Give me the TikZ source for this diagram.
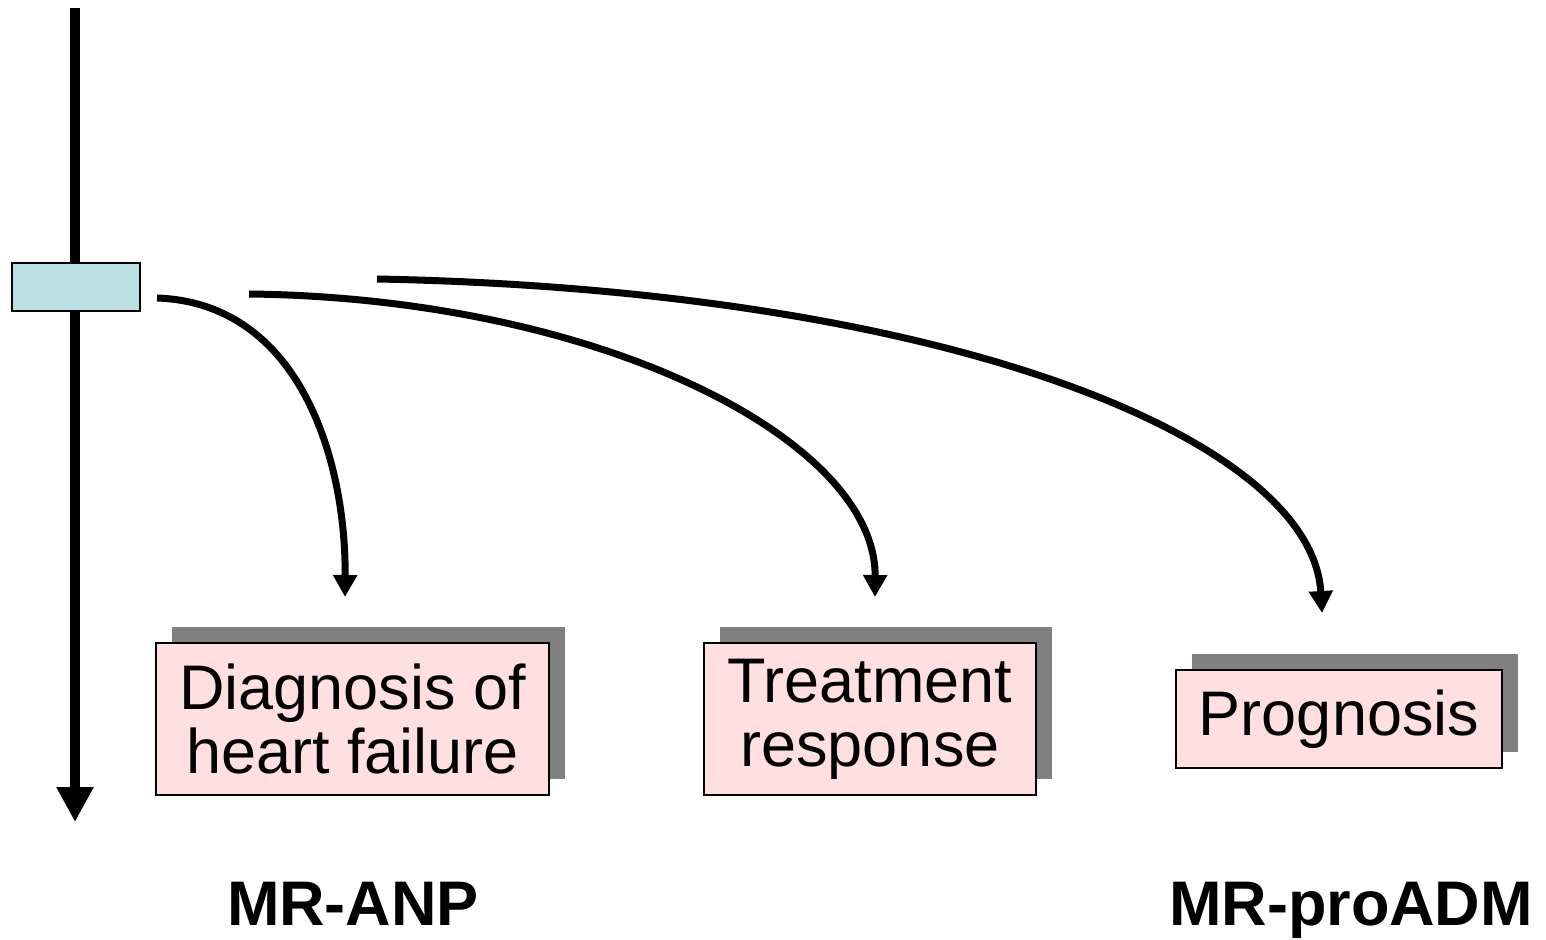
\documentclass[tikz,border=0pt]{standalone}
\usepackage{fontspec}
\setmainfont{Liberation Sans}
\usetikzlibrary{arrows.meta,shadows}
\definecolor{boxblue}{HTML}{BBE0E3}
\definecolor{boxpink}{HTML}{FFDFE0}
\definecolor{shadowgray}{HTML}{808080}
\begin{document}
\begin{tikzpicture}[x=0.5pt,y=-0.5pt,
  resultbox/.style={draw=black,line width=1pt,fill=boxpink,inner sep=0pt,align=center,
    font=\fontsize{31.5pt}{32pt}\selectfont,
    drop shadow={shadow xshift=8pt,shadow yshift=8pt,fill=shadowgray,opacity=1}},
  curvearrow/.style={line width=3.5pt,-{Triangle[length=11pt,width=11.5pt]}},
  marker/.style={font=\fontsize{31.5pt}{32.5pt}\selectfont\bfseries,anchor=base}]
\useasboundingbox (0,0) rectangle (1546,940);
% time axis
\coordinate (axtop) at (75,8);
\coordinate (axbot) at (75,822);
\draw[line width=5pt,-{Triangle[length=17.5pt,width=17.5pt]}] (axtop) -- (axbot);
\node[draw=black,line width=1pt,fill=boxblue,minimum width=64pt,minimum height=24pt,inner sep=0pt] (sample) at (76,287) {};
% boxes
\node[resultbox,minimum width=196.5pt,minimum height=76pt] (diag) at (352.5,719) {Diagnosis of\\heart failure};
\node[resultbox,minimum width=166pt,minimum height=76pt] (treat) at (870,719) {Treatment\\response};
\node[resultbox,minimum width=163pt,minimum height=49pt] (prog) at (1339,719) {Prognosis};
% curves
\coordinate (s1) at (157,298);
\coordinate (e1) at (345,597);
\coordinate (s2) at (249,294);
\coordinate (e2) at (875,597);
\coordinate (s3) at (377,279);
\coordinate (e3) at (1322,613);
\draw[curvearrow] (s1) .. controls (300,303) and (346,460) .. (e1);
\draw[curvearrow] (s2) .. controls (600,298) and (876,440) .. (e2);
\draw[curvearrow] (s3) .. controls (950,290) and (1312,440) .. (e3);
% labels
\node[marker] (anp) at (353,925) {MR-ANP};
\node[marker] (adm) at (1351,925) {MR-proADM};
\end{tikzpicture}
\end{document}
